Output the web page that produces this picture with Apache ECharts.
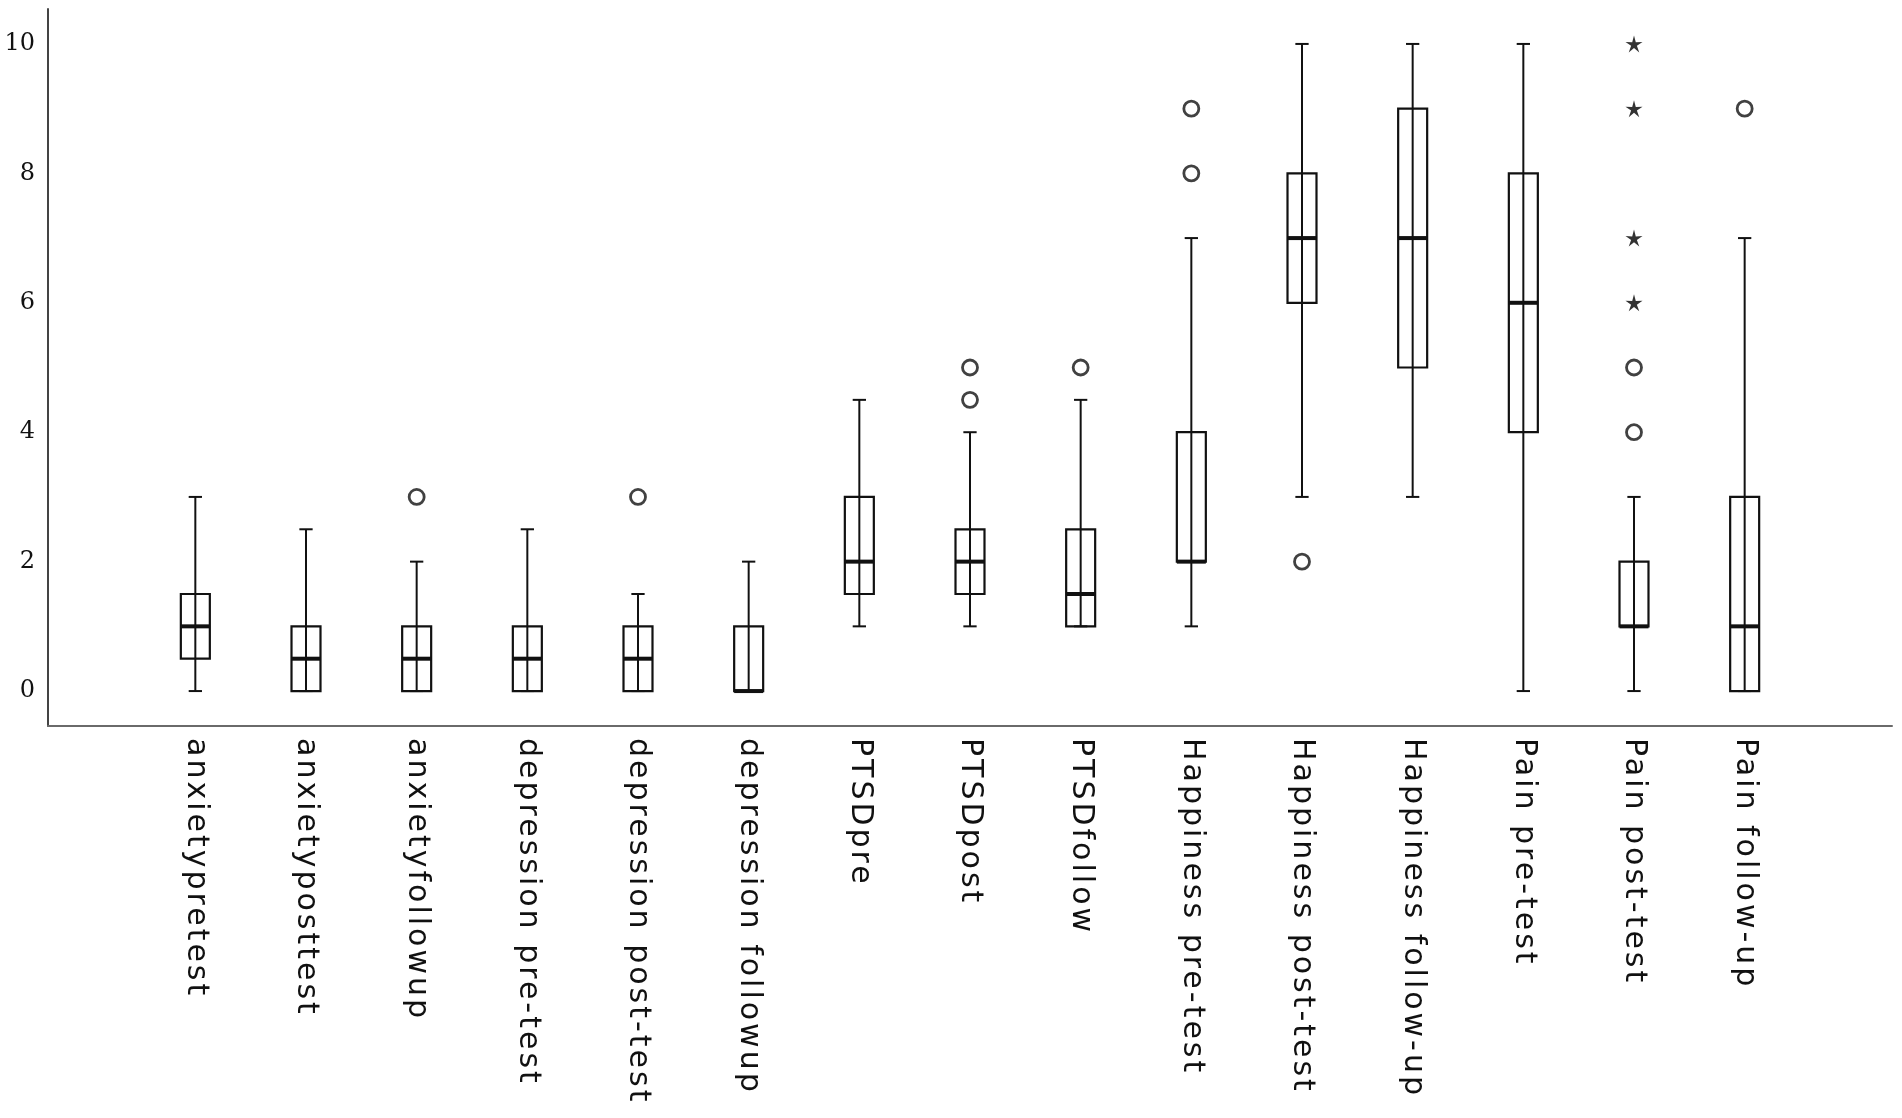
<!DOCTYPE html>
<html>
<head>
<meta charset="utf-8">
<script src="https://cdn.jsdelivr.net/npm/echarts@6/dist/echarts.min.js"></script>
<style>
  html, body {margin: 0; padding: 0; background: #fff;}
  #chart {width: 1902px; height: 1118px;}
</style>
</head>
<body>
<div id="chart"></div>
<script>
// categories along the x axis
const categories = [
    'anxietypretest', 'anxietyposttest', 'anxietyfollowup',
    'depression pre-test', 'depression post-test', 'depression followup',
    'PTSDpre', 'PTSDpost', 'PTSDfollow',
    'Happiness pre-test', 'Happiness post-test', 'Happiness follow-up',
    'Pain pre-test', 'Pain post-test', 'Pain follow-up'
];
// box statistics
const whiskerLow = [0, 0, 0, 0, 0, 0, 1, 1, 1, 1, 3, 3, 0, 0, 0];
const q1 = [0.5, 0, 0, 0, 0, 0, 1.5, 1.5, 1, 2, 6, 5, 4, 1, 0];
const median = [1, 0.5, 0.5, 0.5, 0.5, 0, 2, 2, 1.5, 2, 7, 7, 6, 1, 1];
const q3 = [1.5, 1, 1, 1, 1, 1, 3, 2.5, 2.5, 4, 8, 9, 8, 2, 3];
const whiskerHigh = [3, 2.5, 2, 2.5, 1.5, 2, 4.5, 4, 4.5, 7, 10, 10, 10, 3, 7];
// outliers: [category index, value]
const outliers = [[2, 3], [4, 3], [7, 4.5], [7, 5], [8, 5], [9, 8], [9, 9], [10, 2], [13, 4], [13, 5], [14, 9]];
// extreme values (stars)
const extremes = [[13, 6], [13, 7], [13, 9], [13, 10]];
// y tick labels
const yTicks = [0, 2, 4, 6, 8, 10];

const yMin = -0.54, yMax = 10.54;
const ink = '#111';

// the category labels of the original are widely tracked
const origFillText = CanvasRenderingContext2D.prototype.fillText;
CanvasRenderingContext2D.prototype.fillText = function () {
    this.letterSpacing = this.font.indexOf('DejaVu Sans') >= 0 ? '3px' : '0px';
    return origFillText.apply(this, arguments);
};

// 5 armed asterisk symbol
function starPath() {
    let pts = [];
    for (let k = 0; k < 10; k++) {
        let r = k % 2 === 0 ? 1 : 0.34;
        let a = (-90 + k * 36) * Math.PI / 180;
        pts.push((r * Math.cos(a)).toFixed(3) + ' ' + (r * Math.sin(a)).toFixed(3));
    }
    return 'path://M' + pts.join(' L') + ' Z';
}

let boxData = categories.map((c, i) => [i, whiskerLow[i], q1[i], median[i], q3[i], whiskerHigh[i]]);

let myChart = echarts.init(document.getElementById('chart'));
myChart.setOption({
    animation: false,
    backgroundColor: '#fff',
    grid: [
        {left: 48, right: 10, top: 9, bottom: 392},
        {left: 140, right: 102, top: 9, bottom: 392}
    ],
    xAxis: [
        {
            gridIndex: 0, type: 'value', min: 0, max: 1,
            axisLine: {show: true, onZero: false, lineStyle: {color: '#6a6a6a', width: 2}},
            axisTick: {show: false}, axisLabel: {show: false}, splitLine: {show: false}
        },
        {
            gridIndex: 1, type: 'category', data: categories,
            axisLine: {show: false}, axisTick: {show: false}, splitLine: {show: false},
            axisLabel: {
                rotate: -90, margin: 12, interval: 0,
                fontFamily: 'DejaVu Sans', fontSize: 30, color: '#111'
            }
        }
    ],
    yAxis: [
        {
            gridIndex: 0, type: 'value', min: yMin, max: yMax,
            axisLine: {show: true, lineStyle: {color: '#444', width: 2}},
            axisTick: {show: false}, splitLine: {show: false},
            axisLabel: {
                customValues: yTicks, margin: 13,
                fontFamily: 'DejaVu Serif', fontSize: 24, color: '#111'
            }
        },
        {
            gridIndex: 1, type: 'value', min: yMin, max: yMax, show: false,
            splitLine: {show: false}
        }
    ],
    series: [
        {
            type: 'custom',
            xAxisIndex: 1, yAxisIndex: 1,
            data: boxData,
            encode: {x: 0, y: [1, 2, 3, 4, 5]},
            renderItem: function (params, api) {
                let x = api.value(0);
                let lo = api.coord([x, api.value(1)]);
                let b1 = api.coord([x, api.value(2)]);
                let md = api.coord([x, api.value(3)]);
                let b3 = api.coord([x, api.value(4)]);
                let hi = api.coord([x, api.value(5)]);
                let band = api.size([1, 0])[0];
                let half = band * 0.131;
                let cap = band * 0.06;
                let cx = lo[0];
                return {
                    type: 'group',
                    children: [
                        {type: 'line', shape: {x1: cx, y1: lo[1], x2: cx, y2: hi[1]}, style: {stroke: ink, lineWidth: 2}},
                        {type: 'line', shape: {x1: cx - cap, y1: lo[1], x2: cx + cap, y2: lo[1]}, style: {stroke: ink, lineWidth: 2}},
                        {type: 'line', shape: {x1: cx - cap, y1: hi[1], x2: cx + cap, y2: hi[1]}, style: {stroke: ink, lineWidth: 2}},
                        {
                            type: 'rect',
                            shape: {x: cx - half, y: b3[1], width: half * 2, height: b1[1] - b3[1]},
                            style: {fill: 'rgba(0,0,0,0)', stroke: ink, lineWidth: 2.2}
                        },
                        {type: 'line', shape: {x1: cx - half, y1: md[1], x2: cx + half, y2: md[1]}, style: {stroke: ink, lineWidth: 4}}
                    ]
                };
            }
        },
        {
            type: 'scatter',
            xAxisIndex: 1, yAxisIndex: 1,
            data: outliers,
            symbol: 'circle', symbolSize: 15,
            itemStyle: {color: '#fff', borderColor: ink, borderWidth: 2.8}
        },
        {
            type: 'scatter',
            xAxisIndex: 1, yAxisIndex: 1,
            data: extremes,
            symbol: starPath(), symbolSize: 17,
            itemStyle: {color: '#000'}
        }
    ]
});
</script>
</body>
</html>
